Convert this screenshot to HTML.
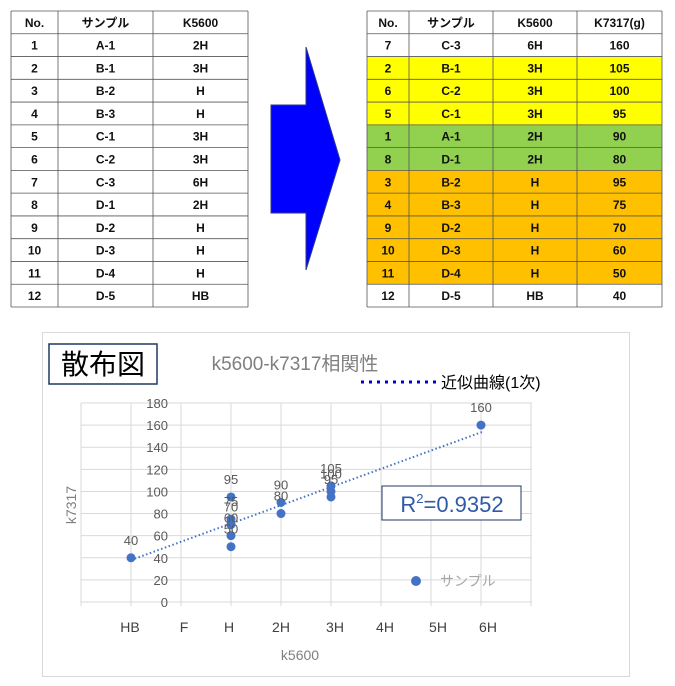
<!DOCTYPE html>
<html><head><meta charset="utf-8"><style>
html,body{margin:0;padding:0;background:#fff;width:675px;height:686px;overflow:hidden}
svg{display:block;font-family:"Liberation Sans","Noto Sans CJK JP",sans-serif}
.t{font-size:12px;font-weight:bold;fill:#111;text-anchor:middle}
.g{font-size:13px;fill:#595959}
</style></head><body>
<svg width="675" height="686" viewBox="0 0 675 686">
<!-- left table -->
<g id="lt"></g>
<g id="rt"></g>
<polygon points="271,105 306,105 306,47 340,160 306,270 306,213 271,213" fill="#0000ff" stroke="#2a3a80" stroke-width="1"/>
<!-- chart frame -->
<rect x="42.5" y="332.5" width="587" height="344" fill="#fff" stroke="#d9d9d9"/>
<g id="grid" stroke="#d9d9d9" stroke-width="1"></g>
<g id="ch"></g>
<rect x="49" y="344" width="108" height="40" fill="#fff" stroke="#1f3864" stroke-width="1.5"/>
<text x="103" y="374" font-size="28" text-anchor="middle" fill="#000">散布図</text>
<text x="295" y="370" font-size="19" text-anchor="middle" fill="#7f7f7f">k5600-k7317相関性</text>
<line x1="361" y1="382" x2="438" y2="382" stroke="#0000cc" stroke-width="3" stroke-dasharray="3,5"/>
<text x="441" y="388" font-size="16" fill="#000">近似曲線(1次)</text>
<rect x="382" y="486" width="139" height="34" fill="#fff" stroke="#1f3864" stroke-width="1"/>
<text x="452" y="512" font-size="22" text-anchor="middle" fill="#2e5aa8">R<tspan font-size="13" dy="-9">2</tspan><tspan dy="9">=0.9352</tspan></text>
<circle cx="416" cy="581" r="5" fill="#4472c4"/>
<text x="440" y="586" font-size="14" fill="#a6a6a6">サンプル</text>
<text x="300" y="660" font-size="14" text-anchor="middle" fill="#7f7f7f">k5600</text>
<text transform="translate(76,505) rotate(-90)" font-size="14" text-anchor="middle" fill="#7f7f7f">k7317</text>
</svg>
<script>
const NS="http://www.w3.org/2000/svg";
function el(p,t,a,txt){const e=document.createElementNS(NS,t);for(const k in a)e.setAttribute(k,a[k]);if(txt!==undefined)e.textContent=txt;p.appendChild(e);return e;}
const rh=296/13;
function table(g,x0,cols,rows,fills){
  const y0=11;
  rows.forEach((r,i)=>{
    const y=y0+i*rh;
    el(g,'rect',{x:x0,y:y,width:cols[cols.length-1]-x0,height:rh,fill:fills[i]||'#fff'});
  });
  rows.forEach((r,i)=>{
    const y=y0+i*rh;
    let xs=[x0].concat(cols);
    r.forEach((c,j)=>el(g,'text',{x:(xs[j]+xs[j+1])/2,y:y+rh/2+4.5,class:'t'},c));
  });
  for(let i=0;i<=13;i++)el(g,'line',{x1:x0,x2:cols[cols.length-1],y1:y0+i*rh,y2:y0+i*rh,stroke:'#555','stroke-width':0.8});
  [x0].concat(cols).forEach(x=>el(g,'line',{x1:x,x2:x,y1:y0,y2:y0+296,stroke:'#555','stroke-width':0.8}));
}
table(document.getElementById('lt'),11,[58,153,248],[["No.","サンプル","K5600"],["1","A-1","2H"],["2","B-1","3H"],["3","B-2","H"],["4","B-3","H"],["5","C-1","3H"],["6","C-2","3H"],["7","C-3","6H"],["8","D-1","2H"],["9","D-2","H"],["10","D-3","H"],["11","D-4","H"],["12","D-5","HB"]],[]);
const Y='#ffff00',G='#92d050',O='#ffc000';
table(document.getElementById('rt'),367,[409,493,577,662],[["No.","サンプル","K5600","K7317(g)"],["7","C-3","6H","160"],["2","B-1","3H","105"],["6","C-2","3H","100"],["5","C-1","3H","95"],["1","A-1","2H","90"],["8","D-1","2H","80"],["3","B-2","H","95"],["4","B-3","H","75"],["9","D-2","H","70"],["10","D-3","H","60"],["11","D-4","H","50"],["12","D-5","HB","40"]],['#fff','#fff',Y,Y,Y,G,G,O,O,O,O,O,'#fff']);
const gr=document.getElementById('grid'),ch=document.getElementById('ch');
const yv=v=>602-v*199/180, xv=i=>131+50*i;
for(let v=0;v<=180;v+=20)el(gr,'line',{x1:81,x2:532,y1:yv(v),y2:yv(v)});
for(let i=-1;i<=8;i++)el(gr,'line',{x1:xv(i),x2:xv(i),y1:403,y2:606});
for(let v=0;v<=180;v+=20)el(ch,'text',{x:168,y:yv(v)+5,class:'g','text-anchor':'end'},v);
["HB","F","H","2H","3H","4H","5H","6H"].forEach((l,i)=>el(ch,'text',{x:[130,184,229,281,335,385,438,488][i],y:632,'font-size':14,'text-anchor':'middle',fill:'#404040'},l));
el(ch,'line',{x1:131,y1:560,x2:482,y2:432,stroke:'#4472c4','stroke-width':2,'stroke-dasharray':'1.5,2.5'});
const pts=[[0,[40]],[2,[95,75,70,60,50]],[3,[90,80]],[4,[105,100,95]],[7,[160]]];
pts.forEach(([i,vs])=>vs.forEach(v=>{
  el(ch,'circle',{cx:xv(i),cy:yv(v),r:4.5,fill:'#4472c4'});
  el(ch,'text',{x:xv(i),y:yv(v)-13,class:'g','text-anchor':'middle'},v);
}));
</script>
</body></html>
